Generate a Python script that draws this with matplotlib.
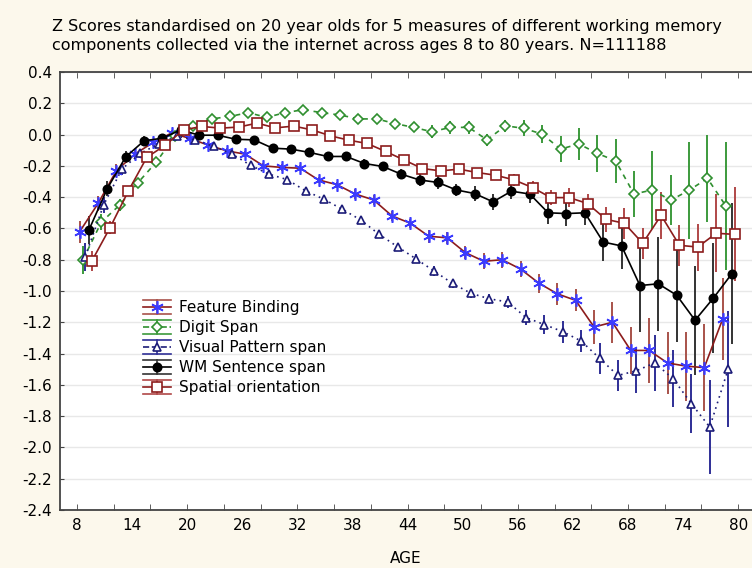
import numpy as np
import matplotlib
matplotlib.use('Agg')
import matplotlib.pyplot as plt
from matplotlib.lines import Line2D
from matplotlib.legend_handler import HandlerBase
from matplotlib.ticker import FormatStrFormatter

plt.rcParams['font.family'] = 'DejaVu Sans'
plt.rcParams['axes.unicode_minus'] = False

# age groups, two-year bins
ages = np.arange(9, 80, 2)

feature_binding = [-0.62, -0.44, -0.23, -0.125, -0.05, 0.01, -0.025, -0.068, -0.104, -0.125,
                   -0.20, -0.21, -0.215, -0.29, -0.32, -0.38, -0.418, -0.52, -0.567, -0.65,
                   -0.66, -0.755, -0.81, -0.80, -0.86, -0.95, -1.018, -1.06, -1.23, -1.20,
                   -1.38, -1.38, -1.46, -1.48, -1.49, -1.18]
feature_binding_err = [0.07, 0.05, 0.04, 0.03, 0.02, 0.02, 0.02, 0.02, 0.02, 0.02,
                       0.02, 0.02, 0.02, 0.02, 0.02, 0.03, 0.03, 0.03, 0.03, 0.04,
                       0.04, 0.04, 0.05, 0.05, 0.05, 0.06, 0.07, 0.07, 0.11, 0.13,
                       0.15, 0.21, 0.20, 0.22, 0.28, 0.26]

digit_span = [-0.80, -0.56, -0.45, -0.307, -0.175, -0.01, 0.056, 0.10, 0.116, 0.14,
              0.11, 0.14, 0.159, 0.14, 0.125, 0.10, 0.10, 0.07, 0.046, 0.018,
              0.046, 0.046, -0.034, 0.056, 0.04, 0.003, -0.093, -0.06, -0.12, -0.168,
              -0.38, -0.354, -0.42, -0.356, -0.28, -0.456]
digit_span_err = [0.09, 0.05, 0.04, 0.03, 0.02, 0.02, 0.02, 0.02, 0.02, 0.02,
                  0.02, 0.02, 0.02, 0.02, 0.02, 0.03, 0.03, 0.03, 0.03, 0.04,
                  0.04, 0.04, 0.04, 0.04, 0.05, 0.06, 0.085, 0.10, 0.12, 0.14,
                  0.15, 0.25, 0.16, 0.31, 0.28, 0.41]

visual_pattern = [-0.78, -0.45, -0.22, -0.12, -0.06, -0.01, -0.036, -0.076, -0.125, -0.196,
                  -0.253, -0.288, -0.36, -0.414, -0.478, -0.546, -0.638, -0.717, -0.794, -0.873,
                  -0.952, -1.015, -1.05, -1.07, -1.17, -1.215, -1.26, -1.32, -1.43, -1.54,
                  -1.51, -1.46, -1.56, -1.72, -1.87, -1.50]
visual_pattern_err = [0.09, 0.05, 0.04, 0.03, 0.02, 0.02, 0.02, 0.02, 0.02, 0.02,
                      0.02, 0.02, 0.02, 0.02, 0.02, 0.02, 0.02, 0.02, 0.03, 0.03,
                      0.03, 0.03, 0.03, 0.04, 0.05, 0.06, 0.07, 0.07, 0.10, 0.10,
                      0.14, 0.18, 0.18, 0.19, 0.30, 0.37]

wm_sentence = [-0.61, -0.345, -0.143, -0.04, -0.023, 0.03, -0.004, -0.004, -0.03, -0.034,
               -0.087, -0.093, -0.114, -0.14, -0.14, -0.185, -0.204, -0.253, -0.29, -0.306,
               -0.354, -0.377, -0.43, -0.362, -0.38, -0.50, -0.505, -0.50, -0.687, -0.712,
               -0.965, -0.954, -1.027, -1.187, -1.045, -0.89]
wm_sentence_err = [0.09, 0.05, 0.04, 0.03, 0.02, 0.02, 0.02, 0.02, 0.02, 0.02,
                   0.02, 0.02, 0.02, 0.02, 0.03, 0.03, 0.03, 0.03, 0.04, 0.04,
                   0.04, 0.05, 0.05, 0.05, 0.06, 0.07, 0.08, 0.08, 0.12, 0.15,
                   0.30, 0.30, 0.30, 0.35, 0.35, 0.45]

spatial = [-0.81, -0.595, -0.36, -0.146, -0.068, 0.03, 0.052, 0.041, 0.048, 0.073,
           0.043, 0.054, 0.03, -0.008, -0.036, -0.057, -0.108, -0.162, -0.217, -0.232,
           -0.221, -0.243, -0.26, -0.29, -0.339, -0.403, -0.403, -0.441, -0.542, -0.567,
           -0.695, -0.516, -0.708, -0.719, -0.631, -0.638]
spatial_err = [0.065, 0.04, 0.03, 0.02, 0.02, 0.02, 0.02, 0.02, 0.02, 0.02,
               0.02, 0.02, 0.02, 0.02, 0.02, 0.02, 0.02, 0.03, 0.03, 0.03,
               0.03, 0.03, 0.03, 0.04, 0.04, 0.05, 0.06, 0.06, 0.08, 0.10,
               0.10, 0.15, 0.13, 0.15, 0.25, 0.30]

x_labels = np.arange(8, 81, 6)
y_ticks = np.arange(-2.4, 0.41, 0.2)

# (label, values, errors, dodge, line colour, linestyle, marker, size, face, edge, bar colour)
series = [
    ('Feature Binding', feature_binding, feature_binding_err, -0.7,
     '#8c1c1c', '-', (6, 2, 0), 9, '#3b3bff', '#3b3bff', '#a8524a'),
    ('Digit Span', digit_span, digit_span_err, -0.35,
     '#2f8f2f', (0, (3, 3)), 'D', 5, 'white', '#2f8f2f', '#3c9a3c'),
    ('Visual Pattern span', visual_pattern, visual_pattern_err, -0.1,
     '#1c1c78', (0, (1, 2.5)), '^', 6, 'white', '#1c1c78', '#2e2e96'),
    ('WM Sentence span', wm_sentence, wm_sentence_err, 0.3,
     'black', '-', 'o', 6, 'black', 'black', '#333333'),
    ('Spatial orientation', spatial, spatial_err, 0.6,
     '#8c1c1c', '-', 's', 7, 'white', '#8c1c1c', '#b04848'),
]


class WhiskerHandler(HandlerBase):
    # line + marker with the error bar drawn as whiskers above and below
    def __init__(self, bar_color):
        super().__init__()
        self.bar_color = bar_color

    def create_artists(self, legend, orig_handle, xdescent, ydescent,
                       width, height, fontsize, trans):
        x0, x1 = -xdescent, -xdescent + width
        y0, y1 = -ydescent, -ydescent + height
        xm, ym = (x0 + x1) / 2, (y0 + y1) / 2
        arts = [
            Line2D([x0, x1], [y0, y0], color=self.bar_color, lw=1.2),
            Line2D([x0, x1], [y1, y1], color=self.bar_color, lw=1.2),
            Line2D([xm, xm], [y0, y1], color=self.bar_color, lw=1.2),
            Line2D([x0, x1], [ym, ym], color=orig_handle.get_color(),
                   linestyle=orig_handle.get_linestyle(), lw=1.2),
            Line2D([xm], [ym], linestyle='none', marker=orig_handle.get_marker(),
                   ms=orig_handle.get_markersize(),
                   mfc=orig_handle.get_markerfacecolor(),
                   mec=orig_handle.get_markeredgecolor(), mew=1.2),
        ]
        for a in arts:
            a.set_transform(trans)
        return arts


fig = plt.figure(figsize=(7.52, 5.68), dpi=100, facecolor='#fcf8ec')
ax = fig.add_axes([60 / 752, 58 / 568, 692 / 752, 438 / 568])
ax.set_facecolor('white')

handles = []
hmap = {}
for (label, vals, errs, dodge, lc, ls, mk, ms, mfc, mec, bc) in series:
    x = ages + dodge
    ax.errorbar(x, vals, yerr=errs, fmt='none', ecolor=bc, elinewidth=1.4, zorder=2)
    line, = ax.plot(x, vals, color=lc, linestyle=ls, lw=1.2, marker=mk, ms=ms,
                    mfc=mfc, mec=mec, mew=1.2, zorder=3, label=label)
    handles.append(line)
    hmap[line] = WhiskerHandler(bc)

ax.set_xlim(6.15, 81.5)
ax.set_ylim(-2.4, 0.4)

ax.set_yticks(y_ticks)
ax.yaxis.set_major_formatter(FormatStrFormatter('%.1f'))
ax.tick_params(axis='y', direction='in', length=3, labelsize=11, color='#444444', pad=6)
ax.grid(axis='y', color='#e8e8e8', lw=1)
ax.set_axisbelow(True)

ax.xaxis.remove_overlapping_locs = False
ax.set_xticks(x_labels)
ax.set_xticks(np.arange(8, 81, 4), minor=True)
ax.tick_params(axis='x', which='major', length=0, labelsize=11, pad=6)
ax.tick_params(axis='x', which='minor', direction='in', length=4, top=True, bottom=True,
               color='#444444')
ax.set_xlabel('AGE', fontsize=11, labelpad=13)

for side in ('left', 'bottom', 'top'):
    ax.spines[side].set_color('#444444')
    ax.spines[side].set_linewidth(1.3)
ax.spines['right'].set_visible(False)

fig.text(52 / 752, 1 - 19 / 568,
         'Z Scores standardised on 20 year olds for 5 measures of different working memory\n'
         'components collected via the internet across ages 8 to 80 years. N=111188',
         fontsize=11.5, va='top', ha='left', linespacing=1.3)

fig.legend(handles=handles, handler_map=hmap, loc='upper left',
           bbox_to_anchor=(143 / 752, 1 - 300 / 568), frameon=False, fontsize=11,
           handlelength=1.85, handleheight=1.05, handletextpad=0.5,
           labelspacing=0.3, borderpad=0, borderaxespad=0)

fig.savefig('out.png', dpi=100, facecolor=fig.get_facecolor())
